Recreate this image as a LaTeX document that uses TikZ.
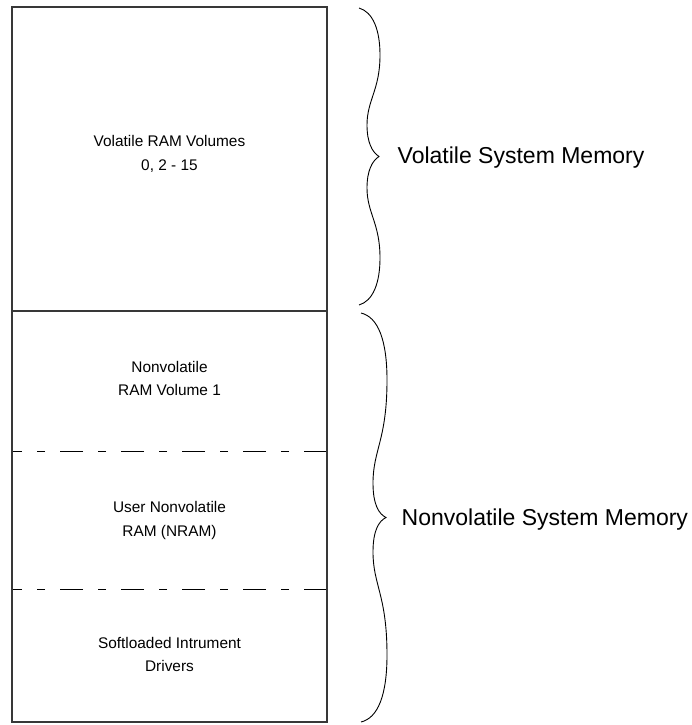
\documentclass[tikz,border=0pt]{standalone}
\usepackage{fontspec}
\setmainfont{Liberation Sans}
\begin{document}
\begin{tikzpicture}[x=1pt,y=-1pt,
  frame/.style={draw=black!78,line width=1.7pt},
  divider/.style={draw=black,line width=0.9pt,dash pattern=on 23pt off 15pt on 8pt off 15pt},
  brace/.style={draw=black,line width=0.9pt},
  cell/.style={align=center,inner sep=0pt,font=\fontsize{15.4}{23.5}\selectfont},
  region/.style={anchor=base west,inner sep=0pt,font=\fontsize{23}{27}\selectfont}]
\useasboundingbox (0,0) rectangle (692,725);

% memory map outline
\coordinate (tl) at (12,7);
\coordinate (br) at (327,722);
\coordinate (ml) at (12,311);
\coordinate (mr) at (327,311);
\coordinate (d1l) at (12,451);
\coordinate (d1r) at (327,451);
\coordinate (d2l) at (12,589);
\coordinate (d2r) at (327,589);

\draw[divider] (d1r) -- (d1l);
\draw[divider] (d2r) -- (d2l);
\draw[frame] (ml) -- (mr);
\draw[frame] (tl) rectangle (br);

% cell labels
\node[cell] (vram) at (169.5,154) {Volatile RAM Volumes\\0, 2 - 15};
\node[cell] (nvram) at (169.5,378.5) {Nonvolatile\\RAM Volume 1};
\node[cell] (uram) at (169.5,520.5) {User Nonvolatile\\RAM (NRAM)};
\node[cell] (drv) at (169.5,654.5) {Softloaded Intrument\\Drivers};

% braces
\coordinate (vtip) at (379,156.5);
\coordinate (ntip) at (386,517.5);
\draw[brace] (359,8) .. controls (373,12) and (380,30) .. (380,55)
  .. controls (380,90) and (367,100) .. (367,125)
  .. controls (367,142) and (372,152) .. (vtip)
  .. controls (372,161) and (367,171) .. (367,188)
  .. controls (367,213) and (380,223) .. (380,258)
  .. controls (380,283) and (373,301) .. (359,305);
\draw[brace] (361,313) .. controls (378,317) and (387,340) .. (387,380)
  .. controls (387,440) and (373,450) .. (373,483)
  .. controls (373,505) and (379,514) .. (ntip)
  .. controls (379,521) and (373,530) .. (373,552)
  .. controls (373,585) and (387,595) .. (387,655)
  .. controls (387,695) and (378,718) .. (361,722);

% region labels
\node[region] (vsys) at (397.5,163.5) {Volatile System Memory};
\node[region] (nsys) at (401.5,525) {Nonvolatile System Memory};
\end{tikzpicture}
\end{document}
